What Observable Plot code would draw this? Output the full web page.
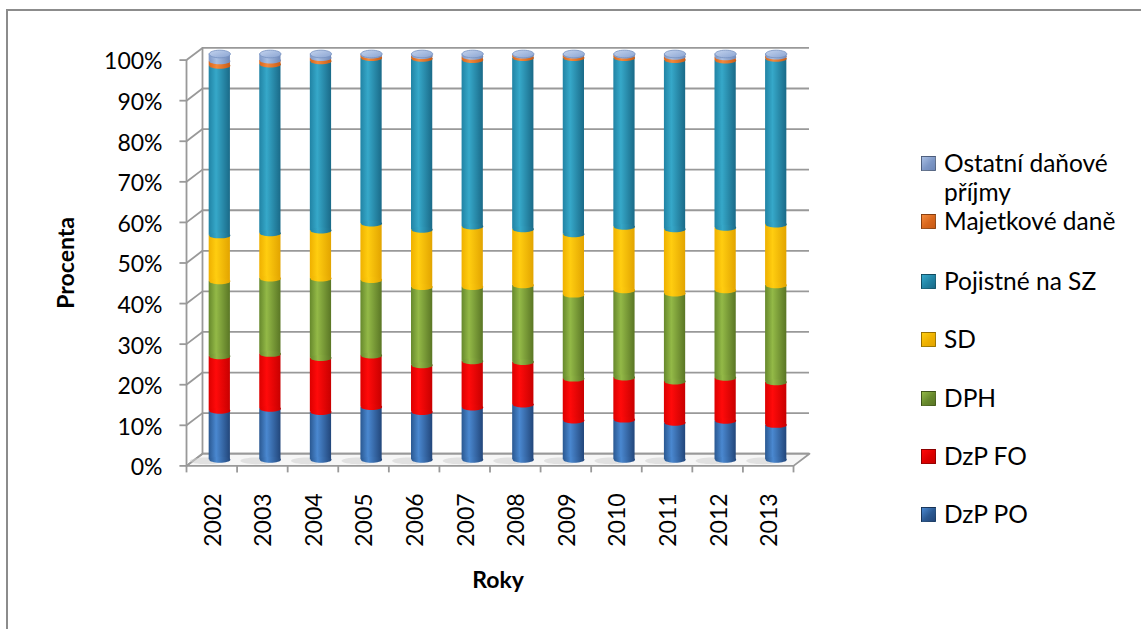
<!DOCTYPE html>
<html>
<head>
<meta charset="utf-8">
<script src="https://cdn.jsdelivr.net/npm/d3@7"></script>
<script src="https://cdn.jsdelivr.net/npm/@observablehq/plot@0.6"></script>
<style>
  html, body { margin: 0; padding: 0; background: #fff; overflow: hidden; }
  #wrap { position: relative; width: 1141px; height: 629px; font-family: Lato, "Open Sans", sans-serif; }
  #frame { position: absolute; left: 6px; top: 9px; width: 2000px; height: 2000px;
           border-left: 2px solid #8c8c8c; border-top: 2px solid #8c8c8c; }
  #chart { position: absolute; left: 0; top: 0; }
  #legend { position: absolute; left: 921px; top: 0; }
  .item { position: absolute; left: 0; white-space: nowrap; font-size: 24.5px; color: #000; }
  .sw { position: absolute; left: 0; width: 13px; height: 13px; border: 1px solid rgba(0,0,0,0.35); }
  .lab { position: absolute; left: 23px; line-height: 29px; }
</style>
</head>
<body>
<div id="wrap">
  <div id="frame"></div>
  <div id="chart"></div>
  <div id="legend"></div>
</div>
<script>
// Struktura daňových příjmů (podíly v %), roky 2002–2013
const years = ["2002","2003","2004","2005","2006","2007","2008","2009","2010","2011","2012","2013"];
const seriesNames = ["DzP PO","DzP FO","DPH","SD","Pojistné na SZ","Majetkové daně","Ostatní daňové příjmy"];
const dzpPO     = [12.1, 12.6, 11.8, 13.0, 11.8, 12.9, 13.6,  9.7,  9.9,  9.1,  9.6,  8.6];
const dzpFO     = [13.4, 13.5, 13.3, 12.7, 11.5, 11.4, 10.5, 10.3, 10.4, 10.2, 10.6, 10.5];
const dph       = [18.5, 18.6, 19.6, 18.6, 19.3, 18.3, 18.9, 20.7, 21.5, 21.7, 21.6, 23.9];
const sd        = [11.3, 11.1, 11.8, 13.9, 14.1, 14.9, 13.8, 14.9, 15.6, 15.8, 15.4, 15.0];
const pojistne  = [41.8, 41.6, 41.7, 40.8, 42.1, 41.0, 42.2, 43.4, 41.6, 41.7, 41.2, 40.8];
const majetkove = [ 1.1,  1.0,  0.8,  0.6,  0.7,  0.8,  0.6,  0.6,  0.6,  0.8,  0.8,  0.6];
const ostatni   = [ 1.8,  1.6,  1.0,  0.4,  0.5,  0.7,  0.4,  0.4,  0.4,  0.7,  0.8,  0.6];
const yTicks = [0, 10, 20, 30, 40, 50, 60, 70, 80, 90, 100];

const seriesValues = [dzpPO, dzpFO, dph, sd, pojistne, majetkove, ostatni];

// cylinder shading per series: [left edge, highlight, right edge]
const shades = [
  ["#2a5891", "#4a88d0", "#22467a"],
  ["#dc0000", "#ff0a0a", "#c80000"],
  ["#66882c", "#93b947", "#5a7625"],
  ["#eeb000", "#ffcd10", "#e2a400"],
  ["#2183a4", "#36a8c9", "#1a6a88"],
  ["#d8661c", "#f48a3c", "#c85a14"],
  ["#7d97c6", "#a9bfe3", "#6f88b8"]
];
const gradId = s => `url(#cyl${s})`;

// stacked segments (bottom → top)
const rows = [];
years.forEach((year, i) => {
  let acc = 0;
  seriesValues.forEach((vals, s) => {
    rows.push({year, i, s, series: seriesNames[s], y1: acc, y2: acc + vals[i]});
    acc += vals[i];
  });
});
const bars = years.map((year, i) => ({year, i}));

// 3D box: half depth in data units, tick lengths, bar half-width
const DX = 0.158, DY = 1.5, TX = 0.14, TY = 1.6, BAR_HALF = 0.21, BAR_R = 10.6;
const N = years.length;
const GRID = "#999999";

// ellipse symbol (flattened circle) for cylinder rims
const ellipse = k => ({
  draw(ctx, size) {
    const rx = Math.sqrt(size / Math.PI), ry = rx * k, c = 0.5523;
    ctx.moveTo(-rx, 0);
    ctx.bezierCurveTo(-rx, -ry * c, -rx * c, -ry, 0, -ry);
    ctx.bezierCurveTo(rx * c, -ry, rx, -ry * c, rx, 0);
    ctx.bezierCurveTo(rx, ry * c, rx * c, ry, 0, ry);
    ctx.bezierCurveTo(-rx * c, ry, -rx, ry * c, -rx, 0);
    ctx.closePath();
  }
});

const floor = [
  {x: -DX, y: -DY}, {x: N - DX, y: -DY}, {x: N + DX, y: DY}, {x: DX, y: DY}, {x: -DX, y: -DY}
];

const plot = Plot.plot({
  width: 1141,
  height: 629,
  marginLeft: 194,
  marginRight: 340,
  marginTop: 53.5,
  marginBottom: 169.7,
  x: {axis: null, domain: [0, N]},
  y: {axis: null, domain: [0, 100]},
  color: {type: "identity"},
  style: {background: "transparent", fontFamily: "Lato, 'Open Sans', sans-serif", overflow: "visible"},
  marks: [
    // floor
    Plot.line(floor, {x: "x", y: "y", fill: "#f6f6f6", stroke: GRID, strokeWidth: 1.8}),
    // back wall gridlines and left wall
    Plot.ruleY(yTicks, {y: d => d + DY, x1: DX, x2: N + DX, stroke: GRID, strokeWidth: 1.8}),
    Plot.ruleX([DX], {y1: DY, y2: 100 + DY, stroke: GRID, strokeWidth: 1.8}),
    Plot.link(yTicks, {x1: -DX, y1: d => d - DY, x2: DX, y2: d => d + DY, stroke: GRID, strokeWidth: 1.8}),
    // soft shadows on the floor
    Plot.dot(bars, {x: d => d.i + 0.5, y: 0, dx: -13, dy: 1, r: 17, symbol: ellipse(0.2), fill: "#cfcfcf", fillOpacity: 0.55}),
    // cylinder segments
    Plot.rect(rows, {x1: d => d.i + 0.5 - BAR_HALF, x2: d => d.i + 0.5 + BAR_HALF, y1: "y1", y2: "y2", fill: d => gradId(d.s)}),
    // curved lower rim of each segment
    Plot.dot(rows, {x: d => d.i + 0.5, y: "y1", r: BAR_R, symbol: ellipse(0.28), fill: d => gradId(d.s)}),
    // top faces
    Plot.dot(bars, {x: d => d.i + 0.5, y: 100, r: BAR_R, symbol: ellipse(0.36), fill: "url(#capTop)", stroke: "#7590c0", strokeWidth: 0.8}),
    // front axes
    Plot.ruleX([-DX], {y1: -DY, y2: 100 - DY, stroke: GRID, strokeWidth: 1.8}),
    Plot.link(yTicks, {x1: -DX - TX, x2: -DX, y1: d => d - DY, y2: d => d - DY, stroke: GRID, strokeWidth: 1.8}),
    Plot.link(d3.range(N + 1), {x1: d => d - DX, x2: d => d - DX, y1: -DY, y2: -DY - TY, stroke: GRID, strokeWidth: 1.8}),
    Plot.text(yTicks, {x: -DX, y: d => d - DY, text: d => d + "%", textAnchor: "end", dx: -24, dy: 2, fontSize: 23, fill: "#000"}),
    Plot.text(bars, {x: d => d.i + 0.5 - DX, y: -DY, text: "year", rotate: -90, textAnchor: "end", dx: 1.5, dy: 27.5, fontSize: 23, fill: "#000"}),
    // axis titles
    Plot.text(["Procenta"], {frameAnchor: "left", text: d => d, rotate: -90, textAnchor: "middle", dx: -128, dy: 6, fontSize: 23, fontWeight: "bold", fill: "#000"}),
    Plot.text(["Roky"], {frameAnchor: "bottom", text: d => d, textAnchor: "middle", dy: 128, fontSize: 23, fontWeight: "bold", fill: "#000"})
  ]
});

// gradient definitions for the cylinders
const defs = d3.select(plot).insert("defs", ":first-child");
shades.forEach((c, s) => {
  const g = defs.append("linearGradient").attr("id", `cyl${s}`).attr("x1", 0).attr("x2", 1).attr("y1", 0).attr("y2", 0);
  g.append("stop").attr("offset", 0).attr("stop-color", c[0]);
  g.append("stop").attr("offset", 0.35).attr("stop-color", c[1]);
  g.append("stop").attr("offset", 1).attr("stop-color", c[2]);
});
const cap = defs.append("linearGradient").attr("id", "capTop").attr("x1", 0).attr("x2", 1).attr("y1", 0).attr("y2", 1);
cap.append("stop").attr("offset", 0).attr("stop-color", "#c3d3ee");
cap.append("stop").attr("offset", 1).attr("stop-color", "#8aa4d2");

document.getElementById("chart").appendChild(plot);

// legend (top entry first, as stacked)
const legendOrder = [6, 5, 4, 3, 2, 1, 0];
const legendY = [162, 220, 280, 338, 397, 455, 513];
const legend = document.getElementById("legend");
legendOrder.forEach((s, k) => {
  const c = shades[s];
  const item = document.createElement("div");
  item.className = "item";
  item.style.top = (legendY[k] - 14.5) + "px";
  const sw = document.createElement("div");
  sw.className = "sw";
  sw.style.top = "8px";
  sw.style.background = `linear-gradient(135deg, ${c[1]} 0%, ${c[0]} 55%, ${c[2]} 100%)`;
  const lab = document.createElement("div");
  lab.className = "lab";
  if (s === 6) {
    lab.innerHTML = "Ostatní daňové<br>příjmy";
  } else {
    lab.textContent = seriesNames[s];
  }
  item.appendChild(sw);
  item.appendChild(lab);
  legend.appendChild(item);
});
</script>
</body>
</html>
